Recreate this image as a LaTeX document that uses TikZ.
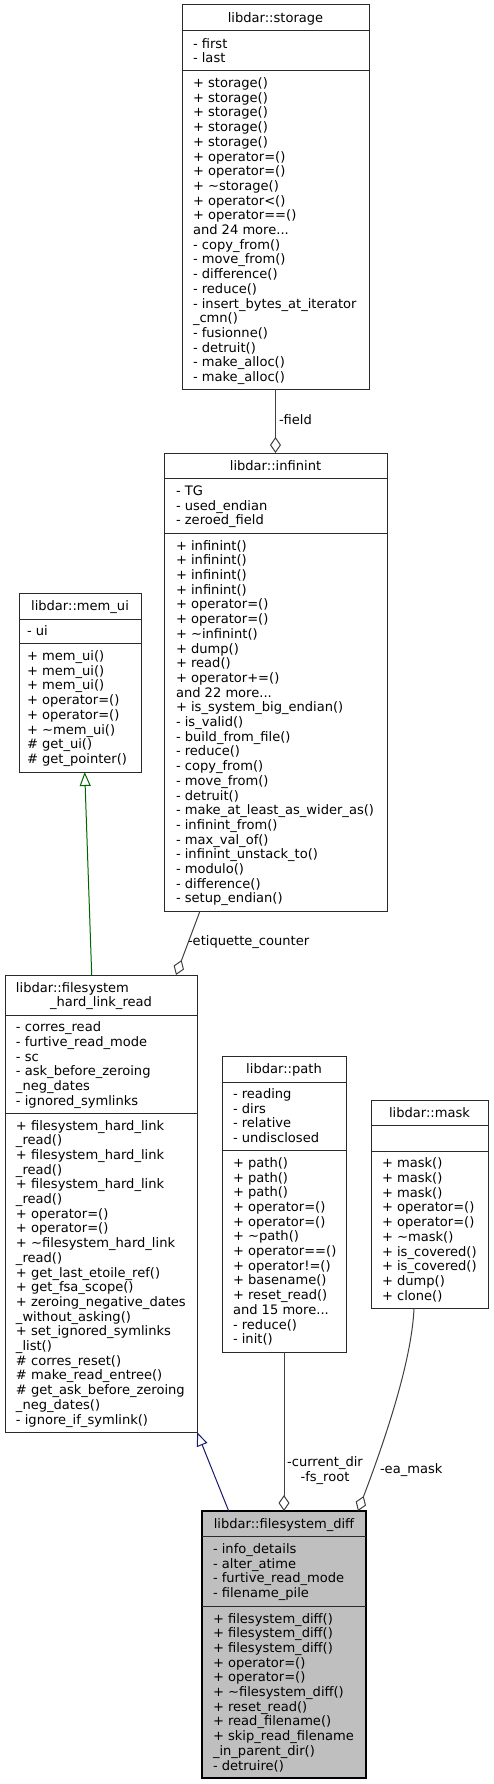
\documentclass[tikz,border=0pt]{standalone}
\usepackage{fontspec}
\setmainfont{DejaVu Sans}
\usetikzlibrary{arrows.meta,calc,fit}
\definecolor{edgegray}{HTML}{404040}
\definecolor{boxline}{HTML}{2A2A2A}
\definecolor{inhgreen}{HTML}{006400}
\definecolor{inhblue}{HTML}{191970}
\definecolor{curfill}{HTML}{BFBFBF}
\newcommand\mdots{...}
\newcommand\uifont{\fontsize{9.8}{11}\selectfont}
\tikzset{
  txt/.style={anchor=base west, inner sep=0pt, outer sep=0pt, font=\uifont},
  ttl/.style={anchor=base, inner sep=0pt, outer sep=0pt, font=\uifont},
  boxst/.style={draw=boxline, line width=0.75pt, inner sep=0pt, outer sep=0pt, fill=white},
  curbox/.style={draw=black, line width=1pt, fill=curfill},
  divline/.style={draw=boxline, line width=0.75pt},
  usage/.style={draw=edgegray, line width=0.75pt, -{Diamond[open, length=12pt, width=8.25pt]}},
  inhg/.style={draw=inhgreen, line width=0.75pt, -{Triangle[open, length=10.5pt, width=8.25pt]}},
  inhb/.style={draw=inhblue, line width=0.75pt, -{Triangle[open, length=10.5pt, width=8.25pt]}},
  lbl/.style={inner sep=0pt, outer sep=0pt, font=\uifont},
}
% name, left, right, top, div1, div2, bottom, extra style
\newcommand\umlbox[8]{%
  \node[boxst,#8,fit={(#2,#4)(#3,#7)}] (#1) {};
  \draw[divline] (#2,#5) -- (#3,#5) (#2,#6) -- (#3,#6);
}
% prefix, x, top, bottom, list
\newcommand\sectext[5]{%
  \foreach \itm [count=\kk] in {#5} {\xdef\nlines{\kk}}%
  \foreach \itm [count=\kk] in {#5} {%
    \node[txt] (#1-\kk) at (#2, {(#3+#4)/2+(\kk-1-(\nlines-1)/2)*14.7+4.5}) {\itm};
  }%
}
\begin{document}
\begin{tikzpicture}[x=0.75pt,y=-0.75pt]
\fill[white] (0,0) rectangle (493,1784);
\useasboundingbox (0,0) rectangle (493,1784);

% ---------- libdar::storage
\umlbox{storage}{182}{369}{5}{31}{71}{389}{}
\node[ttl] (storage-t) at (275.5,22.5) {libdar::storage};
\sectext{storage-a}{193}{31}{71}{{- first},{- last}}
\sectext{storage-m}{193}{71}{389}{{+ storage()},{+ storage()},{+ storage()},{+ storage()},{+ storage()},{+ operator=()},{+ operator=()},{+ \textasciitilde storage()},{+ operator<()},{+ operator==()},{and 24 more\mdots},{- copy\_from()},{- move\_from()},{- difference()},{- reduce()},{- insert\_bytes\_at\_iterator},{\_cmn()},{- fusionne()},{- detruit()},{- make\_alloc()},{- make\_alloc()}}

% ---------- libdar::infinint
\umlbox{infinint}{164}{387}{453}{478}{533}{911}{}
\node[ttl] (infinint-t) at (275.5,470) {libdar::infinint};
\sectext{infinint-a}{176}{478}{533}{{- TG},{- used\_endian},{- zeroed\_field}}
\sectext{infinint-m}{176}{533}{911}{{+ infinint()},{+ infinint()},{+ infinint()},{+ infinint()},{+ operator=()},{+ operator=()},{+ \textasciitilde infinint()},{+ dump()},{+ read()},{+ operator+=()},{and 22 more\mdots},{+ is\_system\_big\_endian()},{- is\_valid()},{- build\_from\_file()},{- reduce()},{- copy\_from()},{- move\_from()},{- detruit()},{- make\_at\_least\_as\_wider\_as()},{- infinint\_from()},{- max\_val\_of()},{- infinint\_unstack\_to()},{- modulo()},{- difference()},{- setup\_endian()}}

% ---------- libdar::mem_ui
\umlbox{memui}{19}{141}{593}{619}{643}{772}{}
\node[ttl] (memui-t) at (80,610.5) {libdar::mem\_ui};
\sectext{memui-a}{27}{619}{643}{{- ui}}
\sectext{memui-m}{27}{643}{772}{{+ mem\_ui()},{+ mem\_ui()},{+ mem\_ui()},{+ operator=()},{+ operator=()},{+ \textasciitilde mem\_ui()},{\# get\_ui()},{\# get\_pointer()}}

% ---------- libdar::filesystem_hard_link_read
\umlbox{fshl}{5}{197}{975}{1015}{1113}{1432}{}
\node[txt] (fshl-t1) at (16,992) {libdar::filesystem};
\node[ttl] (fshl-t2) at (101,1006.7) {\_hard\_link\_read};
\sectext{fshl-a}{16}{1015}{1113}{{- corres\_read},{- furtive\_read\_mode},{- sc},{- ask\_before\_zeroing},{\_neg\_dates},{- ignored\_symlinks}}
\sectext{fshl-m}{16}{1113}{1432}{{+ filesystem\_hard\_link},{\_read()},{+ filesystem\_hard\_link},{\_read()},{+ filesystem\_hard\_link},{\_read()},{+ operator=()},{+ operator=()},{+ \textasciitilde filesystem\_hard\_link},{\_read()},{+ get\_last\_etoile\_ref()},{+ get\_fsa\_scope()},{+ zeroing\_negative\_dates},{\_without\_asking()},{+ set\_ignored\_symlinks},{\_list()},{\# corres\_reset()},{\# make\_read\_entree()},{\# get\_ask\_before\_zeroing},{\_neg\_dates()},{- ignore\_if\_symlink()}}

% ---------- libdar::path
\umlbox{path}{222}{346}{1056}{1082}{1150}{1352}{}
\node[ttl] (path-t) at (284,1073.5) {libdar::path};
\sectext{path-a}{233}{1082}{1150}{{- reading},{- dirs},{- relative},{- undisclosed}}
\sectext{path-m}{233}{1150}{1352}{{+ path()},{+ path()},{+ path()},{+ operator=()},{+ operator=()},{+ \textasciitilde path()},{+ operator==()},{+ operator!=()},{+ basename()},{+ reset\_read()},{and 15 more\mdots},{- reduce()},{- init()}}

% ---------- libdar::mask
\umlbox{mask}{371}{488}{1100}{1125}{1151}{1308}{}
\node[ttl] (mask-t) at (429.5,1117) {libdar::mask};
\sectext{mask-m}{382}{1151}{1308}{{+ mask()},{+ mask()},{+ mask()},{+ operator=()},{+ operator=()},{+ \textasciitilde mask()},{+ is\_covered()},{+ is\_covered()},{+ dump()},{+ clone()}}

% ---------- libdar::filesystem_diff
\umlbox{fsdiff}{202}{366}{1511}{1536}{1606}{1778}{curbox}
\node[ttl] (fsdiff-t) at (284,1528) {libdar::filesystem\_diff};
\sectext{fsdiff-a}{213}{1536}{1606}{{- info\_details},{- alter\_atime},{- furtive\_read\_mode},{- filename\_pile}}
\sectext{fsdiff-m}{213}{1606}{1778}{{+ filesystem\_diff()},{+ filesystem\_diff()},{+ filesystem\_diff()},{+ operator=()},{+ operator=()},{+ \textasciitilde filesystem\_diff()},{+ reset\_read()},{+ read\_filename()},{+ skip\_read\_filename},{\_in\_parent\_dir()},{- detruire()}}

% ---------- connectors
\draw[usage] (storage.south) -- (infinint.north);
\node[lbl, anchor=west] (lfield) at (279,420) {-field};

\draw[usage] ($(infinint.south west)+(36,0)$) -- ($(fshl.north west)+(171,0)$);
\node[lbl, anchor=west] (letiq) at (188,942) {-etiquette\_counter};

\draw[inhg] ($(fshl.north west)+(86.7,0)$) -- ($(memui.south west)+(65.7,0)$);

\draw[usage] (path.south) -- (fsdiff.north);
\node[lbl, align=center] (lpath) at (325,1470.5) {-current\_dir\\-fs\_root};

\draw[usage] ($(mask.south west)+(43,0)$) .. controls (412,1360) and (385,1440) .. ($(fsdiff.north west)+(156,0)$);
\node[lbl, anchor=west] (lmask) at (380,1470) {-ea\_mask};

\draw[inhb] ($(fsdiff.north west)+(26.7,0)$) -- (fshl.south east);
\end{tikzpicture}
\end{document}
